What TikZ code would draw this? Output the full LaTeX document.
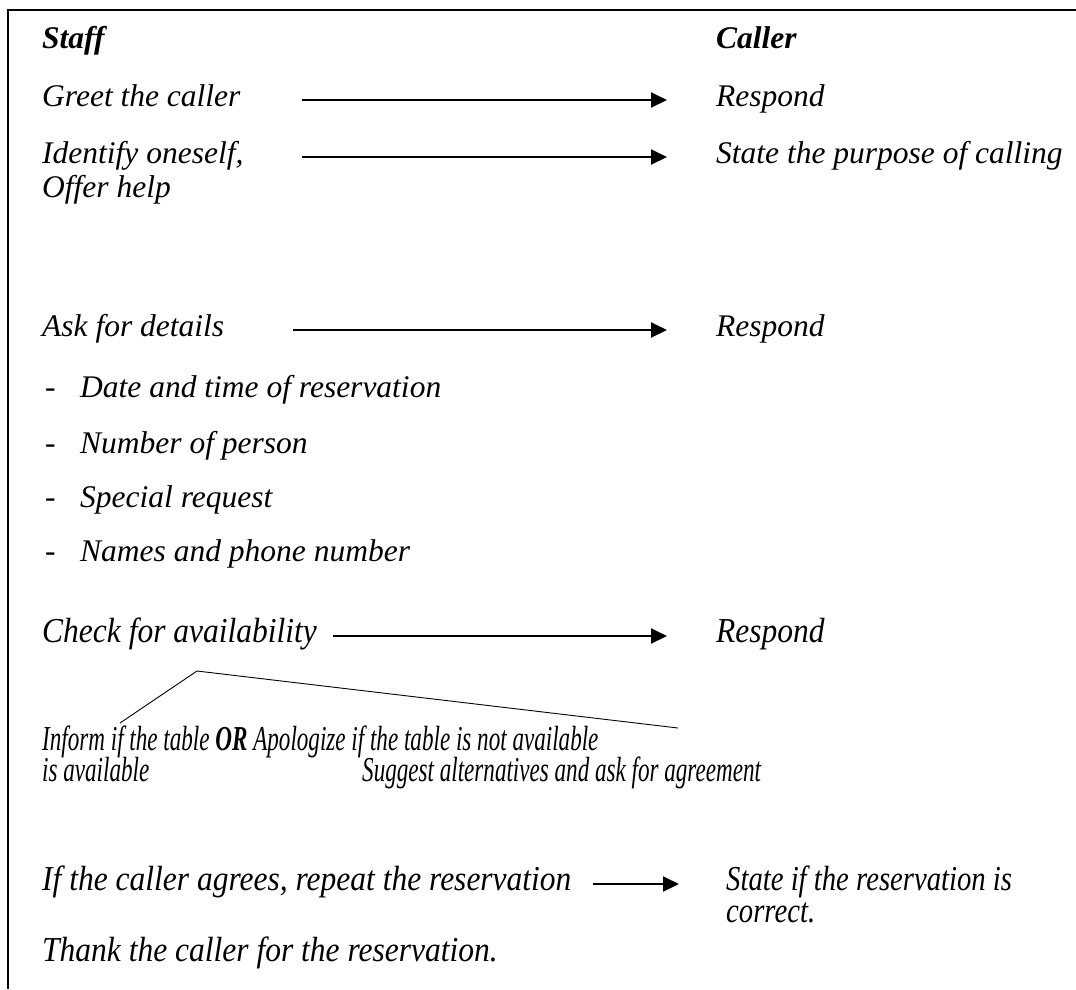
\documentclass[tikz,border=0pt]{standalone}
\usepackage{fontspec}
\setmainfont{Liberation Serif}
\newfontfamily\tallfont[FakeStretch=0.9]{Liberation Serif}
\newfontfamily\narrowfont[FakeStretch=0.66]{Liberation Serif}
\newfontfamily\statefont[FakeStretch=0.82]{Liberation Serif}
\usetikzlibrary{arrows.meta, positioning}
\tikzset{
  txt/.style={anchor=base west, inner sep=0pt, font=\fontsize{31.5}{36}\selectfont\itshape},
  head/.style={txt, font=\fontsize{31.5}{36}\selectfont\bfseries\itshape},
  low/.style={anchor=base west, inner sep=0pt, font=\tallfont\fontsize{35}{38}\selectfont\itshape},
  lownarrow/.style={low, font=\narrowfont\fontsize{35}{38}\selectfont\itshape},
  lowstate/.style={low, font=\statefont\fontsize{35}{38}\selectfont\itshape},
  arrow/.style={-{Triangle[length=16pt,width=15pt]}, line width=2pt, transform canvas={yshift=6pt}},
  branch/.style={line width=0.9pt},
  frame/.style={line width=2.8pt}
}
\begin{document}
\begin{tikzpicture}[x=1pt, y=-1pt]
  \useasboundingbox (0,0) rectangle (1076,989);
  % box, cut off at right and bottom
  \draw[frame] (8,989) -- (8,10) -- (1076,10);

  % columns where the arrows start and end
  \coordinate (colA) at (302,0);
  \coordinate (colB) at (667,0);
  \coordinate (colC) at (293,0);
  \coordinate (colD) at (333,0);
  \coordinate (colE) at (593,0);
  \coordinate (colF) at (679,0);

  \node[head] (staff) at (42,48) {Staff};
  \node[head] (caller) at (716,48) {Caller};

  \node[txt] (greet) at (42,106) {Greet the caller};
  \node[txt] (resp1) at (716,106) {Respond};
  \node[txt] (ident) at (42,163) {Identify oneself,};
  \node[txt] (offer) at (42,197) {Offer help};
  \node[txt] (purpose) at (716,163) {State the purpose of calling};

  \node[txt] (ask) at (42,336) {Ask for details};
  \node[txt] (resp2) at (716,336) {Respond};
  \node[txt] (date) at (45,397) {\makebox[35pt][l]{-}Date and time of reservation};
  \node[txt] (persons) at (45,453) {\makebox[35pt][l]{-}Number of person};
  \node[txt] (special) at (45,507) {\makebox[35pt][l]{-}Special request};
  \node[txt] (names) at (45,561) {\makebox[35pt][l]{-}Names and phone number};

  \node[low] (check) at (42,642) {Check for availability};
  \node[low] (resp3) at (716,642) {Respond};

  % split into the two answers
  \coordinate (apex) at (197,671);
  \coordinate (legL) at (120,723);
  \coordinate (legR) at (678,728);
  \draw[branch] (legL) -- (apex) -- (legR);

  \node[lownarrow] (inform) at (42,750) {Inform if the table \textbf{OR} Apologize if the table is not available};
  \node[lownarrow] (avail) at (42,781) {is available};
  \node[lownarrow] (suggest) at (362,781) {Suggest alternatives and ask for agreement};

  \node[low] (repeat) at (42,890) {If the caller agrees, repeat the reservation};
  \node[lowstate] (confirm) at (726,890) {State if the reservation is};
  \node[lowstate] (correct) at (726,922) {correct.};
  \node[low] (thank) at (42,961) {Thank the caller for the reservation.};

  \draw[arrow] (greet.base -| colA) -- (resp1.base -| colB);
  \draw[arrow] (ident.base -| colA) -- (purpose.base -| colB);
  \draw[arrow] (ask.base -| colC) -- (resp2.base -| colB);
  \draw[arrow] (check.base -| colD) -- (resp3.base -| colB);
  \draw[arrow] (repeat.base -| colE) -- (confirm.base -| colF);
\end{tikzpicture}
\end{document}
